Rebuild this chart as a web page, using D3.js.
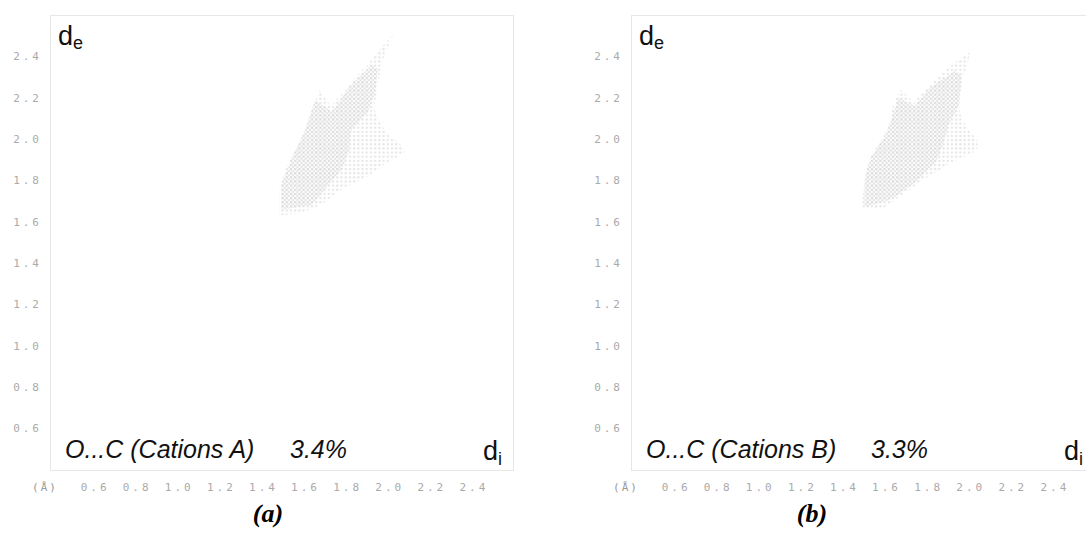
<!DOCTYPE html>
<html>
<head>
<meta charset="utf-8">
<script src="https://cdn.jsdelivr.net/npm/d3@7"></script>
<style>
  html, body { margin: 0; padding: 0; background: #fff; }
  svg { display: block; }
</style>
</head>
<body>
<svg id="chart" width="1086" height="535"></svg>
<script>
// Axis ticks shared by both fingerprint plots (distances in Å)
const tickValues = [0.6, 0.8, 1.0, 1.2, 1.4, 1.6, 1.8, 2.0, 2.2, 2.4];
const tickLabels = ["0.6", "0.8", "1.0", "1.2", "1.4", "1.6", "1.8", "2.0", "2.2", "2.4"];
const axisDomain = [0.4, 2.6];

// Panel annotations
const contactLabels = ["O...C (Cations A)", "O...C (Cations B)"];
const contactPercent = [3.4, 3.3];
const panelCaptions = ["(a)", "(b)"];

// Outline of the O...C region of each fingerprint, [di, de] pairs
const outlineA = [
  [2.04, 2.52], [2.02, 2.48], [2.00, 2.43], [1.98, 2.38], [1.97, 2.33], [1.96, 2.27],
  [1.95, 2.21], [1.94, 2.16], [1.95, 2.11], [1.98, 2.06], [2.02, 2.01], [2.06, 1.98],
  [2.09, 1.94], [2.06, 1.92], [1.99, 1.88], [1.94, 1.84], [1.89, 1.81], [1.83, 1.78],
  [1.76, 1.74], [1.70, 1.69], [1.64, 1.66], [1.58, 1.64], [1.49, 1.63], [1.49, 1.70],
  [1.49, 1.76], [1.51, 1.83], [1.53, 1.88], [1.56, 1.94], [1.60, 2.00], [1.62, 2.05],
  [1.64, 2.12], [1.66, 2.17], [1.67, 2.21], [1.68, 2.24], [1.70, 2.21], [1.72, 2.18],
  [1.74, 2.15], [1.75, 2.18], [1.79, 2.22], [1.83, 2.27], [1.87, 2.32], [1.91, 2.36],
  [1.94, 2.40], [1.98, 2.45], [2.02, 2.49]
];
// Densely populated part of the same region
const coreA = [
  [1.66, 2.19], [1.74, 2.13], [1.82, 2.25], [1.93, 2.36], [1.96, 2.34], [1.94, 2.21],
  [1.91, 2.13], [1.83, 2.04], [1.82, 1.94], [1.79, 1.86], [1.71, 1.76], [1.64, 1.68],
  [1.50, 1.66], [1.50, 1.78], [1.55, 1.91], [1.61, 2.04], [1.64, 2.13]
];

const outlineB = [
  [2.01, 2.42], [2.00, 2.36], [1.98, 2.31], [1.97, 2.25], [1.96, 2.21], [1.96, 2.15],
  [1.97, 2.10], [2.00, 2.05], [2.04, 2.00], [2.05, 1.96], [2.02, 1.93], [1.97, 1.91],
  [1.91, 1.88], [1.85, 1.84], [1.78, 1.80], [1.72, 1.75], [1.66, 1.71], [1.61, 1.67],
  [1.50, 1.66], [1.50, 1.71], [1.51, 1.79], [1.52, 1.86], [1.54, 1.92], [1.58, 1.98],
  [1.61, 2.04], [1.63, 2.08], [1.64, 2.14], [1.66, 2.20], [1.68, 2.24], [1.70, 2.22],
  [1.73, 2.19], [1.74, 2.17], [1.77, 2.21], [1.81, 2.25], [1.85, 2.29], [1.89, 2.33],
  [1.94, 2.37], [1.98, 2.40]
];
const coreB = [
  [1.67, 2.20], [1.75, 2.16], [1.81, 2.24], [1.94, 2.33], [1.97, 2.31], [1.96, 2.17],
  [1.91, 2.07], [1.88, 1.97], [1.85, 1.89], [1.75, 1.79], [1.64, 1.71], [1.51, 1.67],
  [1.51, 1.81], [1.54, 1.91], [1.61, 2.02], [1.65, 2.13]
];

const panels = [
  { left: 50,  outline: outlineA, core: coreA },
  { left: 631, outline: outlineB, core: coreB }
];

const plotW = 463, plotH = 455, plotTop = 15;
const captionX = [268, 812];

const svg = d3.select("#chart");
const defs = svg.append("defs");

panels.forEach((p, i) => {
  const x = d3.scaleLinear().domain(axisDomain).range([p.left, p.left + plotW]);
  const y = d3.scaleLinear().domain(axisDomain).range([plotTop + plotH, plotTop]);

  // 0.01 Å histogram bin in pixels
  const bw = x(0.41) - x(0.40);
  const bh = y(0.40) - y(0.41);

  // bin textures: sparse and dense speckle of light grey cells
  const sparse = defs.append("pattern")
    .attr("id", "sparse" + i).attr("patternUnits", "userSpaceOnUse")
    .attr("x", x(0.4)).attr("y", y(2.6))
    .attr("width", bw * 2).attr("height", bh * 2);
  sparse.append("rect").attr("width", bw).attr("height", bh).attr("fill", "#e6e6e6");

  const dense = defs.append("pattern")
    .attr("id", "dense" + i).attr("patternUnits", "userSpaceOnUse")
    .attr("x", x(0.4)).attr("y", y(2.6))
    .attr("width", bw * 2).attr("height", bh * 2);
  dense.append("rect").attr("width", bw).attr("height", bh).attr("fill", "#dedede");
  dense.append("rect").attr("x", bw).attr("y", bh).attr("width", bw).attr("height", bh).attr("fill", "#e3e3e3");

  const g = svg.append("g");

  // plot frame
  g.append("rect")
    .attr("x", x(0.4) + 0.5).attr("y", y(2.6) + 0.5)
    .attr("width", plotW).attr("height", plotH)
    .attr("fill", "none").attr("stroke", "#e6e6e6").attr("stroke-width", 1);

  const line = d3.line().x(d => x(d[0])).y(d => y(d[1])).curve(d3.curveLinearClosed);

  g.append("path").attr("d", line(p.outline)).attr("fill", `url(#sparse${i})`);
  g.append("path").attr("d", line(p.core)).attr("fill", `url(#dense${i})`);

  // tick labels
  const tickFont = "'DejaVu Sans Mono', 'Liberation Mono', monospace";
  g.selectAll(".ylab").data(tickValues).join("text")
    .attr("x", p.left - 8)
    .attr("y", d => y(d))
    .attr("dy", "0.35em")
    .attr("text-anchor", "end")
    .style("font-family", tickFont).style("font-size", "11px")
    .style("letter-spacing", "3px")
    .attr("fill", "#aaaaaa")
    .text((d, k) => tickLabels[k]);

  g.selectAll(".xlab").data(tickValues).join("text")
    .attr("x", d => x(d) + 3)
    .attr("y", 491)
    .attr("text-anchor", "middle")
    .style("font-family", tickFont).style("font-size", "11px")
    .style("letter-spacing", "3px")
    .attr("fill", "#aaaaaa")
    .text((d, k) => tickLabels[k]);

  g.append("text")
    .attr("x", p.left - 5).attr("y", 491)
    .attr("text-anchor", "middle")
    .style("font-family", tickFont).style("font-size", "11px")
    .style("letter-spacing", "2px")
    .attr("fill", "#999999")
    .text("(Å)");

  // axis names inside the frame
  const de = g.append("text")
    .attr("x", p.left + 8).attr("y", 45)
    .style("font-family", "'Liberation Sans', Arial, sans-serif")
    .attr("fill", "#111");
  de.append("tspan").style("font-size", "27px").text("d");
  de.append("tspan").style("font-size", "18px").attr("dy", 4).text("e");

  const di = g.append("text")
    .attr("x", p.left + 433).attr("y", 460)
    .style("font-family", "'Liberation Sans', Arial, sans-serif")
    .attr("fill", "#111");
  di.append("tspan").style("font-size", "27px").text("d");
  di.append("tspan").style("font-size", "18px").attr("dy", 5).text("i");

  // contact type and its share of the surface
  g.append("text")
    .attr("x", p.left + 15).attr("y", 458)
    .style("font-family", "'Liberation Sans', Arial, sans-serif")
    .style("font-style", "italic").style("font-size", "25px")
    .attr("fill", "#111")
    .text(contactLabels[i]);

  g.append("text")
    .attr("x", p.left + 240).attr("y", 458)
    .style("font-family", "'Liberation Sans', Arial, sans-serif")
    .style("font-style", "italic").style("font-size", "25px")
    .attr("fill", "#111")
    .text(contactPercent[i].toFixed(1) + "%");

  // panel caption
  g.append("text")
    .attr("x", captionX[i]).attr("y", 522)
    .attr("text-anchor", "middle")
    .style("font-family", "'Liberation Serif', 'Times New Roman', serif")
    .style("font-style", "italic").style("font-weight", "bold").style("font-size", "26px")
    .attr("fill", "#000")
    .text(panelCaptions[i]);
});
</script>
</body>
</html>
